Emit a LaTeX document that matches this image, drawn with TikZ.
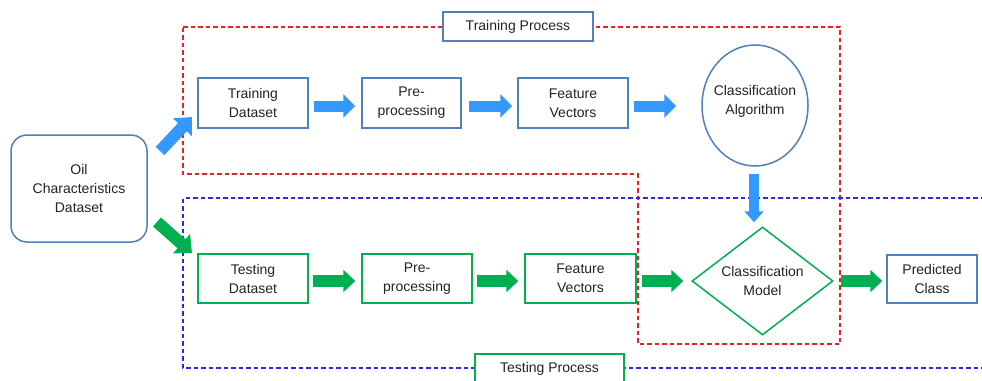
\documentclass[tikz,border=0pt]{standalone}
\usepackage{fontspec}
\setmainfont{Liberation Sans}
\usetikzlibrary{arrows.meta,shapes.geometric}
\definecolor{boxblue}{RGB}{79,129,189}
\definecolor{flowblue}{RGB}{51,153,255}
\definecolor{flowgreen}{RGB}{0,176,80}
\definecolor{trainred}{RGB}{228,32,40}
\definecolor{testblue}{RGB}{40,40,240}
\definecolor{ink}{RGB}{35,35,35}
\begin{document}
\begin{tikzpicture}[x=1pt,y=-1pt,
  every node/.style={font=\fontsize{14}{19}\selectfont, text=ink, align=center, inner sep=0pt},
  bluebox/.style={draw=boxblue, line width=1.5pt, fill=white, minimum width=#1, minimum height=50pt},
  greenbox/.style={draw=flowgreen, line width=1.5pt, fill=white, minimum width=#1, minimum height=49pt},
  region/.style={line width=1.3pt, dash pattern=on 4.5pt off 3pt},
  bluearrow/.style={draw=flowblue, line width=11pt, -{Triangle[width=23pt,length=12pt]}},
  greenarrow/.style={draw=flowgreen, line width=12pt, -{Triangle[width=22pt,length=12pt]}}
]
\clip (0,0) rectangle (982,380);
\fill[white] (0,0) rectangle (982,380);

% dashed outlines of the two stages
\draw[region, trainred] (183,27) -- (840,27) -- (840,344) -- (638,344) -- (638,174) -- (183,174) -- cycle;
\draw[region, testblue] (1000,198) -- (183,198) -- (183,368) -- (1000,368);

% stage captions
\node[draw=boxblue, line width=1.5pt, fill=white, minimum width=150pt, minimum height=29pt] (trcap) at (518,26.5) {Training Process};
\node[draw=flowgreen, line width=1.5pt, fill=white, minimum width=149pt, minimum height=30pt, anchor=north] (tecap) at (549.5,353) {Testing Process};

% source data
\node[draw=boxblue, line width=1.5pt, rounded corners=16pt, minimum width=136pt, minimum height=107pt] (oil) at (79,188.5) {Oil\\Characteristics\\Dataset};

% training row
\node[bluebox=110pt] (trd) at (253,103) {Training\\Dataset};
\node[bluebox=99pt] (trp) at (411.5,103) {Pre-\\processing};
\node[bluebox=110pt] (trf) at (573,103) {Feature\\Vectors};
\node[draw=boxblue, line width=1.5pt, ellipse, minimum width=106pt, minimum height=121pt] (alg) at (755,105.5) {};
\node at ([yshift=4pt]alg.center) {Classification\\Algorithm};

% testing row
\node[greenbox=110pt] (ted) at (253,278.5) {Testing\\Dataset};
\node[greenbox=110pt] (tep) at (417,278.5) {Pre-\\processing};
\node[greenbox=111pt] (tef) at (580.5,278.5) {Feature\\Vectors};
\node[draw=flowgreen, line width=1.5pt, diamond, aspect=1.3, minimum width=141pt, minimum height=108pt] (cm) at (762.5,281) {Classification\\Model};
\node[draw=boxblue, line width=1.5pt, minimum width=90pt, minimum height=48pt] (pc) at (932,279) {Predicted\\Class};

% arrow ends near the source box
\coordinate (upA) at (160,151);
\coordinate (upB) at (192,117);
\coordinate (dnA) at (157,222);
\coordinate (dnB) at (192,253);

% training flow
\draw[bluearrow, line width=12pt, -{Triangle[width=25pt,length=14pt]}] (upA) -- (upB);
\draw[bluearrow, shorten <=5pt, shorten >=6pt] ([yshift=-3pt]trd.east) -- ([yshift=-3pt]trp.west);
\draw[bluearrow, shorten <=7pt, shorten >=5pt] ([yshift=-3pt]trp.east) -- ([yshift=-3pt]trf.west);
\draw[bluearrow, shorten <=5pt, shorten >=25pt] ([yshift=-3pt]trf.east) -- ([yshift=-3pt]trf.east -| alg.west);
\draw[draw=flowblue, line width=10pt, -{Triangle[width=19pt,length=11pt]}, shorten <=7pt, shorten >=4pt] ([xshift=-1pt]alg.south) -- ([xshift=-1pt]alg.south |- cm.north);

% testing flow
\draw[greenarrow, line width=12pt, -{Triangle[width=25pt,length=14pt]}] (dnA) -- (dnB);
\draw[greenarrow, shorten <=4pt, shorten >=6pt] ([yshift=-2.5pt]ted.east) -- ([yshift=-2.5pt]tep.west);
\draw[greenarrow, shorten <=4pt, shorten >=6pt] ([yshift=-2.5pt]tep.east) -- ([yshift=-2.5pt]tef.west);
\draw[greenarrow, shorten <=5pt, shorten >=8pt] ([yshift=-2.5pt]tef.east) -- ([yshift=-2.5pt]tef.east -| cm.west);
\draw[greenarrow, shorten <=7pt, shorten >=4pt] (cm.east) -- (cm.east -| pc.west);
\end{tikzpicture}
\end{document}
